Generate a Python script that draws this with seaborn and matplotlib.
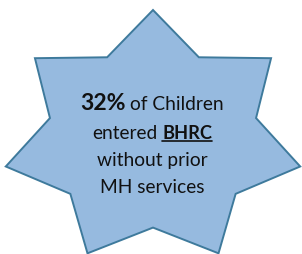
import numpy as np
import matplotlib
matplotlib.use("Agg")
import matplotlib.pyplot as plt
import seaborn as sns

# ---- data ----
star_points = 7
outer_radius = 1.0
inner_ratio = 0.70
text_lines = [
    [("32%", "bold", False, 1.2), ("of Children", "normal", False, 1.0)],
    [("entered", "normal", False, 1.0), ("BHRC", "bold", True, 0.95)],
    [("without prior", "normal", False, 1.0)],
    [("MH services", "normal", False, 1.0)],
]

sns.set_theme(style="white")
plt.rcParams['font.family'] = ['Lato', 'DejaVu Sans']

W, H = 302, 255
fig = plt.figure(figsize=(W / 100, H / 100), dpi=100)
ax = fig.add_axes([0, 0, 1, 1])
ax.set_xlim(0, W)
ax.set_ylim(H, 0)
ax.axis("off")

# star geometry (stretched regular star)
cx, cy, rx, ry = 153, 139, 151, 128
n = star_points * 2
ang = np.pi / 2 - np.arange(n) * np.pi / star_points
rad = np.where(np.arange(n) % 2 == 0, outer_radius, outer_radius * inner_ratio)
xs = cx + rx * rad * np.cos(ang)
ys = cy - ry * rad * np.sin(ang)
ax.fill(xs, ys, facecolor="#96BADF", edgecolor="#3E7A9C", linewidth=1.4,
        joinstyle="miter", zorder=1)

# text
fs = 13.8
renderer = fig.canvas.get_renderer()


def width_of(s, weight, size):
    t = ax.text(0, 0, s, fontsize=size, fontweight=weight)
    bb = t.get_window_extent(renderer)
    t.remove()
    return bb.width


space_w = width_of("a b", "normal", fs) - width_of("ab", "normal", fs)
baselines = [110, 139, 166, 193]
center_x = 152
for line, by in zip(text_lines, baselines):
    widths = [width_of(s, w, fs * k) for s, w, _, k in line]
    total = sum(widths) + space_w * (len(line) - 1)
    x = center_x - total / 2
    for (s, w, u, k), wd in zip(line, widths):
        ax.text(x, by, s, fontsize=fs * k, fontweight=w, color="#111111",
                ha="left", va="baseline", zorder=3)
        if u:
            ax.plot([x, x + wd], [by + 2.5, by + 2.5], color="#111111",
                    linewidth=1.2, zorder=3)
        x += wd + space_w

fig.savefig("out.png", dpi=100)
